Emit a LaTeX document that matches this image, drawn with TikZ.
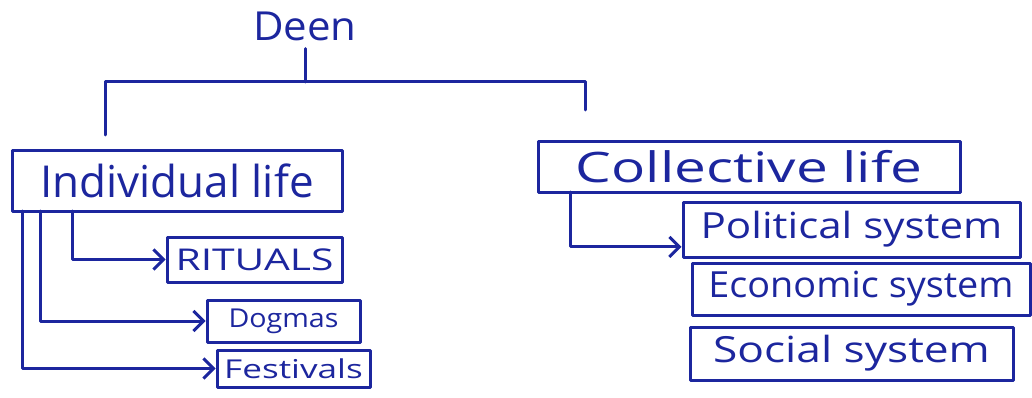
\documentclass[tikz,border=0pt]{standalone}
\usepackage{fontspec}
\setmainfont{Open Sans}
\usetikzlibrary{arrows.meta,calc}
\definecolor{ink}{RGB}{28,38,158}
\tikzset{
  box/.style={draw=ink, line width=3pt, rectangle, inner sep=0pt, text=ink, line join=round},
  lbl/.style={text=ink, inner sep=0pt},
  wire/.style={draw=ink, line width=3pt, line join=round, line cap=round},
  arr/.style={wire, -{Straight Barb[length=10pt,width=20pt,line width=3pt]}},
}
\newcommand{\wtext}[3]{\fontsize{#1}{#1}\selectfont\scalebox{#2}[1]{#3}}
\begin{document}
\begin{tikzpicture}[x=1pt,y=-1pt]
\useasboundingbox (0,0) rectangle (1032,398);
% root
\node[lbl] (deen) at (305,26) {\wtext{40}{1.05}{Deen}};
% main boxes
\node[box, minimum width=330pt, minimum height=60pt] (indiv) at (177,181) {\wtext{44}{1.0}{Individual life}};
\node[box, minimum width=422pt, minimum height=50pt] (coll) at (749,167) {\wtext{42}{1.35}{Collective life}};
% individual children
\node[box, minimum width=175pt, minimum height=45pt] (rit) at (254.5,259.5) {\wtext{30}{1.36}{RITUALS}};
\node[box, minimum width=153pt, minimum height=42pt] (dog) at (283.5,321) {\wtext{26}{1.1}{Dogmas}};
\node[box, minimum width=153pt, minimum height=37pt] (fest) at (293.5,368.5) {\wtext{26}{1.35}{Festivals}};
% collective children
\node[box, minimum width=337pt, minimum height=55pt] (pol) at (851.5,229.5) {\wtext{36}{1.17}{Political system}};
\node[box, minimum width=338pt, minimum height=52pt] (eco) at (861,289) {\wtext{36}{1.05}{Economic system}};
\node[box, minimum width=323pt, minimum height=53pt] (soc) at (851.5,353.5) {\wtext{36}{1.23}{Social system}};
% top bracket
\coordinate (jm) at (305,82);
\coordinate (jl) at (105,82);
\coordinate (jr) at (585,82);
\coordinate (dl) at (105,135);
\coordinate (dr) at (585,110);
\draw[wire] (deen.south) ++(0,8) coordinate (dtop) -- (jm);
\draw[wire] (dl) -- (jl) -- (jr) -- (dr);
% individual connectors
\coordinate (i1) at (72,211);
\coordinate (i2) at (40,211);
\coordinate (i3) at (22,211);
\draw[arr] (i1) |- (rit.west);
\draw[arr] (i2) |- (dog.west);
\draw[arr] (i3) |- (fest.west);
% collective connector
\coordinate (c1) at (570,192);
\draw[arr] (c1) |- ($(pol.south west)!0.2!(pol.north west)$);
\end{tikzpicture}
\end{document}
